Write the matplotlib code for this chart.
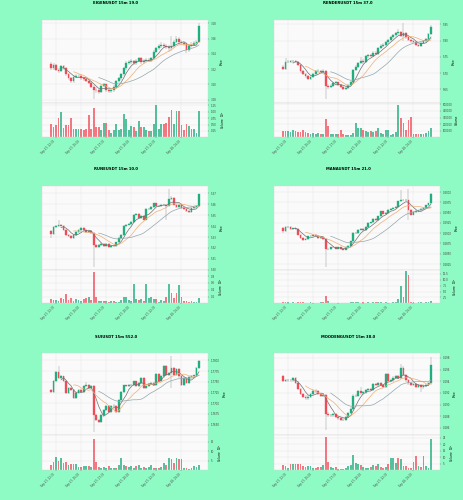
import numpy as np
import pandas as pd
import matplotlib.pyplot as plt
from matplotlib.ticker import MultipleLocator, FormatStrFormatter, FuncFormatter

BG = "#8efbc4"
UP = "#1fae7e"
DOWN = "#f04c58"
WICK = "#9a9a9a"
MA_COLORS = {5: "#707070", 10: "#f2ae74", 20: "#93a7ad"}

times = pd.date_range("2024-09-27 12:00", periods=60, freq="15min")
label_idx = [2, 12, 22, 32, 42, 52]

# ---------------- EIGEN ----------------
eigen_open0 = 3.227
eigen_close = [3.221, 3.226, 3.219, 3.218, 3.224, 3.221, 3.213, 3.208, 3.204, 3.210,
               3.211, 3.211, 3.208, 3.207, 3.205, 3.202, 3.197, 3.193, 3.192, 3.190,
               3.198, 3.200, 3.192, 3.191, 3.192, 3.197, 3.204, 3.208, 3.213, 3.221,
               3.228, 3.229, 3.230, 3.228, 3.231, 3.234, 3.229, 3.231, 3.232, 3.231,
               3.234, 3.243, 3.247, 3.250, 3.252, 3.250, 3.249, 3.247, 3.250, 3.256,
               3.260, 3.255, 3.254, 3.253, 3.245, 3.250, 3.252, 3.254, 3.256, 3.276]
eigen_high = [3.229, 3.228, 3.227, 3.221, 3.226, 3.226, 3.223, 3.215, 3.210, 3.212,
              3.213, 3.214, 3.213, 3.210, 3.209, 3.207, 3.204, 3.199, 3.196, 3.194,
              3.200, 3.202, 3.201, 3.194, 3.194, 3.199, 3.206, 3.210, 3.215, 3.223,
              3.230, 3.232, 3.233, 3.232, 3.233, 3.236, 3.236, 3.233, 3.235, 3.234,
              3.236, 3.245, 3.249, 3.253, 3.255, 3.254, 3.253, 3.252, 3.263, 3.258,
              3.263, 3.262, 3.258, 3.257, 3.255, 3.253, 3.255, 3.257, 3.258, 3.280]
eigen_low = [3.219, 3.219, 3.217, 3.215, 3.216, 3.219, 3.211, 3.206, 3.202, 3.202,
             3.208, 3.209, 3.206, 3.205, 3.203, 3.200, 3.195, 3.181, 3.189, 3.188,
             3.189, 3.196, 3.190, 3.189, 3.189, 3.190, 3.195, 3.202, 3.206, 3.211,
             3.219, 3.226, 3.227, 3.226, 3.226, 3.229, 3.227, 3.227, 3.229, 3.229,
             3.229, 3.232, 3.241, 3.245, 3.248, 3.248, 3.246, 3.243, 3.244, 3.248,
             3.254, 3.252, 3.251, 3.250, 3.241, 3.243, 3.248, 3.250, 3.252, 3.255]
eigen_volume = [51000, 41000, 50000, 74000, 100000, 38000, 47000, 49000, 76000, 34000,
                32000, 32000, 32000, 28000, 32000, 87000, 34000, 114000, 41000, 41000,
                28000, 55000, 55000, 28000, 18000, 28000, 51000, 28000, 32000, 91000,
                71000, 28000, 43000, 42000, 25000, 63000, 41000, 42000, 28000, 25000,
                25000, 51000, 126000, 34000, 54000, 51000, 55000, 79000, 108000, 51000,
                103000, 103000, 47000, 28000, 51000, 45000, 34000, 33000, 16000, 103000]

# ---------------- RENDER ----------------
render_open0 = 5.720
render_close = [5.713, 5.733, 5.735, 5.736, 5.737, 5.735, 5.726, 5.705, 5.698, 5.690,
                5.682, 5.688, 5.698, 5.705, 5.707, 5.702, 5.707, 5.661, 5.657, 5.661,
                5.669, 5.671, 5.664, 5.657, 5.651, 5.654, 5.664, 5.671, 5.708, 5.720,
                5.731, 5.738, 5.733, 5.751, 5.756, 5.753, 5.763, 5.759, 5.777, 5.784,
                5.787, 5.794, 5.802, 5.810, 5.816, 5.822, 5.825, 5.814, 5.822, 5.810,
                5.802, 5.797, 5.794, 5.787, 5.784, 5.792, 5.797, 5.804, 5.820, 5.841]
render_high = [5.724, 5.746, 5.739, 5.740, 5.741, 5.741, 5.738, 5.728, 5.708, 5.701,
               5.693, 5.692, 5.701, 5.708, 5.711, 5.710, 5.711, 5.709, 5.665, 5.665,
               5.673, 5.675, 5.674, 5.667, 5.660, 5.658, 5.667, 5.675, 5.712, 5.724,
               5.735, 5.748, 5.742, 5.755, 5.760, 5.760, 5.767, 5.767, 5.781, 5.788,
               5.791, 5.798, 5.806, 5.814, 5.820, 5.826, 5.835, 5.829, 5.853, 5.826,
               5.814, 5.806, 5.801, 5.798, 5.791, 5.796, 5.801, 5.808, 5.824, 5.848]
render_low = [5.708, 5.710, 5.730, 5.731, 5.732, 5.731, 5.722, 5.701, 5.694, 5.686,
              5.678, 5.679, 5.685, 5.695, 5.702, 5.699, 5.699, 5.620, 5.652, 5.654,
              5.658, 5.665, 5.660, 5.653, 5.647, 5.647, 5.651, 5.661, 5.668, 5.705,
              5.717, 5.728, 5.729, 5.730, 5.747, 5.749, 5.750, 5.755, 5.756, 5.773,
              5.780, 5.783, 5.790, 5.798, 5.806, 5.812, 5.818, 5.810, 5.800, 5.806,
              5.798, 5.793, 5.790, 5.783, 5.780, 5.781, 5.788, 5.793, 5.800, 5.817]
render_volume = [90000, 90000, 90000, 75000, 105000, 90000, 85000, 85000, 105000, 85000,
                 60000, 50000, 60000, 50000, 60000, 50000, 55000, 280000, 170000, 50000,
                 45000, 45000, 50000, 115000, 45000, 40000, 40000, 40000, 70000, 210000,
                 145000, 145000, 105000, 90000, 75000, 90000, 75000, 90000, 135000, 60000,
                 50000, 110000, 110000, 35000, 50000, 75000, 490000, 290000, 210000, 115000,
                 260000, 310000, 50000, 50000, 45000, 45000, 45000, 60000, 90000, 135000]

# ---------------- RUNE ----------------
rune_open0 = 5.3358
rune_close = [5.3328, 5.3392, 5.3398, 5.3414, 5.3405, 5.3368, 5.3322, 5.3312, 5.3291, 5.3322,
              5.3343, 5.3368, 5.3383, 5.3362, 5.3343, 5.3358, 5.3337, 5.3229, 5.3208, 5.3229,
              5.3238, 5.3220, 5.3238, 5.3208, 5.3220, 5.3214, 5.3251, 5.3291, 5.3322, 5.3398,
              5.3414, 5.3423, 5.3435, 5.3506, 5.3515, 5.3475, 5.3491, 5.3460, 5.3558, 5.3558,
              5.3577, 5.3608, 5.3583, 5.3583, 5.3598, 5.3598, 5.3589, 5.3651, 5.3660, 5.3598,
              5.3577, 5.3598, 5.3568, 5.3558, 5.3537, 5.3528, 5.3568, 5.3577, 5.3583, 5.3691]
rune_high = [5.3366, 5.3400, 5.3406, 5.3460, 5.3422, 5.3413, 5.3376, 5.3330, 5.3320, 5.3330,
             5.3351, 5.3376, 5.3391, 5.3391, 5.3370, 5.3366, 5.3366, 5.3345, 5.3237, 5.3237,
             5.3246, 5.3246, 5.3246, 5.3246, 5.3228, 5.3228, 5.3259, 5.3299, 5.3330, 5.3406,
             5.3422, 5.3431, 5.3443, 5.3514, 5.3523, 5.3523, 5.3499, 5.3499, 5.3566, 5.3566,
             5.3585, 5.3616, 5.3616, 5.3591, 5.3606, 5.3606, 5.3606, 5.3737, 5.3680, 5.3668,
             5.3606, 5.3606, 5.3606, 5.3576, 5.3566, 5.3545, 5.3576, 5.3585, 5.3591, 5.3699]
rune_low = [5.3290, 5.3320, 5.3385, 5.3390, 5.3397, 5.3360, 5.3314, 5.3304, 5.3283, 5.3283,
            5.3314, 5.3335, 5.3360, 5.3354, 5.3335, 5.3335, 5.3329, 5.3030, 5.3200, 5.3200,
            5.3221, 5.3212, 5.3212, 5.3200, 5.3200, 5.3206, 5.3206, 5.3243, 5.3283, 5.3314,
            5.3390, 5.3406, 5.3415, 5.3427, 5.3498, 5.3467, 5.3467, 5.3452, 5.3452, 5.3550,
            5.3550, 5.3569, 5.3575, 5.3575, 5.3575, 5.3590, 5.3460, 5.3581, 5.3643, 5.3590,
            5.3569, 5.3569, 5.3560, 5.3550, 5.3529, 5.3520, 5.3520, 5.3560, 5.3569, 5.3575]
rune_volume = [120000, 100000, 100000, 60000, 150000, 120000, 280000, 100000, 150000, 80000,
               120000, 100000, 80000, 120000, 150000, 200000, 100000, 920000, 180000, 80000,
               60000, 80000, 80000, 50000, 60000, 80000, 50000, 50000, 100000, 180000,
               180000, 100000, 80000, 580000, 120000, 100000, 120000, 80000, 560000, 150000,
               180000, 120000, 120000, 50000, 100000, 80000, 180000, 570000, 300000, 150000,
               300000, 540000, 180000, 80000, 80000, 50000, 80000, 50000, 50000, 170000]

# ---------------- MANA ----------------
mana_open0 = 0.29126
mana_close = [0.29044, 0.29150, 0.29150, 0.29101, 0.29118, 0.29101, 0.28962, 0.28881, 0.28840, 0.28856,
              0.28922, 0.28938, 0.28962, 0.28938, 0.28881, 0.28905, 0.28856, 0.28611, 0.28611, 0.28660,
              0.28652, 0.28627, 0.28660, 0.28611, 0.28595, 0.28660, 0.28693, 0.28799, 0.29003, 0.29003,
              0.29085, 0.29101, 0.29069, 0.29150, 0.29248, 0.29265, 0.29346, 0.29314, 0.29412, 0.29534,
              0.29477, 0.29493, 0.29575, 0.29592, 0.29616, 0.29641, 0.29779, 0.29796, 0.29804, 0.29804,
              0.29575, 0.29453, 0.29510, 0.29534, 0.29559, 0.29592, 0.29616, 0.29673, 0.29722, 0.29943]
mana_high = [0.29141, 0.29165, 0.29170, 0.29165, 0.29133, 0.29133, 0.29116, 0.28977, 0.28896, 0.28871,
             0.28937, 0.28953, 0.28977, 0.28977, 0.28953, 0.28920, 0.28920, 0.28871, 0.28626, 0.28675,
             0.28675, 0.28667, 0.28675, 0.28675, 0.28626, 0.28675, 0.28708, 0.28814, 0.29018, 0.29030,
             0.29100, 0.29116, 0.29116, 0.29165, 0.29263, 0.29280, 0.29361, 0.29361, 0.29427, 0.29549,
             0.29549, 0.29508, 0.29590, 0.29607, 0.29631, 0.29656, 0.29794, 0.30049, 0.29840, 0.29830,
             0.30065, 0.29590, 0.29525, 0.29549, 0.29574, 0.29607, 0.29631, 0.29688, 0.29737, 0.29980]
mana_low = [0.29000, 0.29029, 0.29135, 0.29086, 0.29086, 0.29086, 0.28947, 0.28866, 0.28810, 0.28825,
            0.28841, 0.28907, 0.28923, 0.28923, 0.28866, 0.28866, 0.28841, 0.28186, 0.28580, 0.28596,
            0.28637, 0.28612, 0.28612, 0.28596, 0.28580, 0.28580, 0.28645, 0.28678, 0.28784, 0.28988,
            0.28988, 0.29070, 0.29054, 0.29054, 0.29135, 0.29233, 0.29250, 0.29299, 0.29299, 0.29397,
            0.29462, 0.29462, 0.29478, 0.29560, 0.29577, 0.29601, 0.29626, 0.29764, 0.29781, 0.29789,
            0.29330, 0.29438, 0.29438, 0.29495, 0.29519, 0.29544, 0.29577, 0.29601, 0.29658, 0.29707]
mana_volume = [500000, 400000, 600000, 300000, 400000, 300000, 700000, 500000, 400000, 300000,
               300000, 400000, 300000, 300000, 300000, 400000, 500000, 3000000, 800000, 300000,
               300000, 200000, 300000, 200000, 200000, 200000, 300000, 400000, 600000, 500000,
               400000, 300000, 400000, 300000, 400000, 300000, 500000, 400000, 400000, 500000,
               300000, 400000, 300000, 200000, 400000, 500000, 1800000, 7200000, 2700000, 13700000,
               12200000, 600000, 400000, 300000, 400000, 500000, 300000, 400000, 500000, 1000000]

# ---------------- SUI ----------------
sui_open0 = 1.77313
sui_close = [1.77273, 1.77523, 1.77727, 1.77586, 1.77625, 1.77508, 1.77234, 1.77352, 1.77313, 1.77117,
             1.77234, 1.77313, 1.77273, 1.77391, 1.77430, 1.77352, 1.77391, 1.76727, 1.76609, 1.76570,
             1.76727, 1.76844, 1.76945, 1.76805, 1.76945, 1.76945, 1.76805, 1.77078, 1.77273, 1.77414,
             1.77391, 1.77430, 1.77430, 1.77508, 1.77391, 1.77469, 1.77586, 1.77352, 1.77391, 1.77445,
             1.77469, 1.77430, 1.77680, 1.77508, 1.77625, 1.77875, 1.77664, 1.77703, 1.77820, 1.77664,
             1.77805, 1.77625, 1.77430, 1.77586, 1.77469, 1.77602, 1.77625, 1.77648, 1.77820, 1.77977]
sui_high = [1.77340, 1.77545, 1.77750, 1.77859, 1.77650, 1.77645, 1.77530, 1.77375, 1.77375, 1.77335,
            1.77255, 1.77335, 1.77335, 1.77415, 1.77500, 1.77455, 1.77415, 1.77415, 1.76750, 1.76630,
            1.76750, 1.76865, 1.76965, 1.76965, 1.76965, 1.76970, 1.76965, 1.77100, 1.77295, 1.77435,
            1.77435, 1.77455, 1.77455, 1.77530, 1.77530, 1.77490, 1.77610, 1.77610, 1.77415, 1.77470,
            1.77490, 1.77490, 1.77705, 1.77705, 1.77650, 1.77900, 1.77900, 1.77725, 1.78094, 1.77845,
            1.77830, 1.77830, 1.77650, 1.77610, 1.77610, 1.77625, 1.77650, 1.77670, 1.77845, 1.78000]
sui_low = [1.77250, 1.77250, 1.77500, 1.77565, 1.77560, 1.77485, 1.77210, 1.77210, 1.77290, 1.77095,
           1.77095, 1.77210, 1.77250, 1.77250, 1.77370, 1.77330, 1.77330, 1.76336, 1.76585, 1.76545,
           1.76545, 1.76705, 1.76820, 1.76780, 1.76780, 1.76920, 1.76780, 1.76780, 1.77055, 1.77250,
           1.77370, 1.77370, 1.77405, 1.77405, 1.77370, 1.77370, 1.77445, 1.77330, 1.77330, 1.77370,
           1.77420, 1.77405, 1.77405, 1.77485, 1.77485, 1.77600, 1.77640, 1.77640, 1.77350, 1.77640,
           1.77640, 1.77600, 1.77405, 1.77405, 1.77445, 1.77445, 1.77580, 1.77600, 1.77625, 1.77800]
sui_volume = [2800000, 4600000, 6800000, 4900000, 6300000, 3700000, 4600000, 2800000, 3300000, 3300000,
              3200000, 1900000, 1900000, 2500000, 2100000, 2500000, 2000000, 16300000, 4200000, 1900000,
              1100000, 1800000, 1400000, 2300000, 1100000, 1100000, 1000000, 2800000, 6500000, 2800000,
              2400000, 1600000, 2300000, 1400000, 2500000, 3000000, 1400000, 1900000, 1100000, 1600000,
              2800000, 1100000, 1400000, 1100000, 1900000, 3700000, 2800000, 6700000, 6000000, 4000000,
              6700000, 6000000, 5800000, 1400000, 1100000, 700000, 1100000, 2100000, 1600000, 2800000]

# ---------------- MOODENG ----------------
moodeng_open0 = 0.19490
moodeng_close = [0.19406, 0.19417, 0.19423, 0.19417, 0.19451, 0.19377, 0.19265, 0.19180, 0.19135, 0.19107,
                 0.19135, 0.19180, 0.19237, 0.19225, 0.19180, 0.19152, 0.19163, 0.18842, 0.18814, 0.18814,
                 0.18831, 0.18786, 0.18763, 0.18741, 0.18741, 0.18786, 0.18853, 0.18927, 0.19152, 0.19152,
                 0.19225, 0.19192, 0.19208, 0.19248, 0.19265, 0.19248, 0.19349, 0.19338, 0.19361, 0.19338,
                 0.19304, 0.19518, 0.19406, 0.19417, 0.19462, 0.19490, 0.19451, 0.19631, 0.19507, 0.19417,
                 0.19361, 0.19338, 0.19349, 0.19304, 0.19338, 0.19293, 0.19321, 0.19338, 0.19361, 0.19687]
moodeng_high = [0.19510, 0.19440, 0.19445, 0.19445, 0.19475, 0.19475, 0.19400, 0.19285, 0.19200, 0.19155,
                0.19155, 0.19200, 0.19260, 0.19260, 0.19245, 0.19200, 0.19185, 0.19185, 0.18865, 0.18840,
                0.18855, 0.18855, 0.18810, 0.18785, 0.18765, 0.18810, 0.18875, 0.18950, 0.19175, 0.19175,
                0.19245, 0.19300, 0.19230, 0.19270, 0.19285, 0.19285, 0.19370, 0.19370, 0.19385, 0.19385,
                0.19360, 0.19540, 0.19540, 0.19440, 0.19485, 0.19510, 0.19510, 0.19699, 0.19655, 0.19530,
                0.19440, 0.19385, 0.19370, 0.19370, 0.19360, 0.19360, 0.19345, 0.19360, 0.19385, 0.19811]
moodeng_low = [0.19385, 0.19385, 0.19395, 0.19395, 0.19395, 0.19355, 0.19245, 0.19160, 0.19115, 0.19085,
               0.19085, 0.19115, 0.19160, 0.19205, 0.19160, 0.19130, 0.19130, 0.18561, 0.18790, 0.18790,
               0.18790, 0.18765, 0.18740, 0.18720, 0.18720, 0.18720, 0.18765, 0.18830, 0.18905, 0.19130,
               0.19130, 0.19170, 0.19170, 0.19185, 0.19225, 0.19225, 0.19225, 0.19315, 0.19315, 0.19315,
               0.19280, 0.19280, 0.19385, 0.19385, 0.19395, 0.19440, 0.19430, 0.19430, 0.19485, 0.19395,
               0.19340, 0.19315, 0.19315, 0.19280, 0.19280, 0.19208, 0.19270, 0.19300, 0.19315, 0.19340]
moodeng_volume = [4200000, 3600000, 2000000, 4700000, 4700000, 5000000, 5000000, 5000000, 3300000, 2800000,
                  3600000, 3300000, 2000000, 2000000, 2200000, 2200000, 4200000, 25500000, 6400000, 2800000,
                  2000000, 2200000, 1400000, 1400000, 1400000, 2000000, 3300000, 4200000, 11400000, 5500000,
                  5000000, 4200000, 2800000, 2000000, 2000000, 2800000, 4200000, 3600000, 5000000, 2800000,
                  2000000, 2800000, 4700000, 9200000, 9700000, 5500000, 9200000, 8900000, 3300000, 3300000,
                  2000000, 2000000, 6400000, 11000000, 3300000, 2800000, 11000000, 3300000, 2000000, 24000000]

charts = [
    ("EIGENUSDT 15m 19.0", eigen_open0, eigen_close, eigen_high, eigen_low, eigen_volume),
    ("RENDERUSDT 15m 37.0", render_open0, render_close, render_high, render_low, render_volume),
    ("RUNEUSDT 15m 10.0", rune_open0, rune_close, rune_high, rune_low, rune_volume),
    ("MANAUSDT 15m 21.0", mana_open0, mana_close, mana_high, mana_low, mana_volume),
    ("SUIUSDT 15m 552.0", sui_open0, sui_close, sui_high, sui_low, sui_volume),
    ("MOODENGUSDT 15m 38.0", moodeng_open0, moodeng_close, moodeng_high, moodeng_low, moodeng_volume),
]

# axis styling per chart: price step, price format, price limits, volume exponent,
# volume step, volume format, volume top
axis_cfg = [
    (0.02, "%.2f", (3.1756, 3.2843), 5, 0.25e5, "%.2f", 1.34e5),
    (0.05, "%.2f", (5.608, 5.863), 0, 1e5, "%d", 5.2e5),
    (0.01, "%.2f", (5.2998, 5.3768), 6, 0.2e6, "%.1f", 0.98e6),
    (0.0025, "%.4f", (0.28105, 0.30147), 6, 2.5e6, "%.1f", 14.2e6),
    (0.0025, "%.4f", (1.76258, 1.78172), 6, 5e6, "%d", 18.6e6),
    (0.002, "%.3f", (0.18476, 0.19885), 6, 5e6, "%d", 27e6),
]

W, H = 464, 500
fig = plt.figure(figsize=(W / 100, H / 100), dpi=100, facecolor=BG)

col_x = [42, 274]
rows = [(20, 103, 137), (186, 270, 303), (353, 435, 470)]
title_y = [3.5, 169, 337]
title_x = [116, 348]
AX_W = 166


def px_axes(x0, top, bottom):
    return fig.add_axes([x0 / W, 1 - bottom / H, AX_W / W, (bottom - top) / H])


def style(ax):
    ax.set_facecolor("#fafafa")
    for s in ax.spines.values():
        s.set_color("#d8d8d8")
        s.set_linewidth(0.3)
    ax.grid(True, color="#e2e2e2", lw=0.3)
    ax.set_axisbelow(True)
    ax.yaxis.tick_right()
    ax.yaxis.set_label_position("right")
    ax.tick_params(labelsize=1.9, length=1, width=0.3, pad=1, colors="#444444")


for k, (title, open0, close, high, low, volume) in enumerate(charts):
    r, cidx = divmod(k, 2)
    top, mid, bot = rows[r]
    step, fmt, ylim, vexp, vstep, vfmt, vtop = axis_cfg[k]

    axp = px_axes(col_x[cidx], top, mid)
    axv = px_axes(col_x[cidx], mid, bot)
    style(axp)
    style(axv)

    c = np.array(close)
    o = np.r_[open0, c[:-1]]
    h = np.array(high)
    l = np.array(low)
    v = np.array(volume, dtype=float)
    x = np.arange(len(c))
    cols = np.where(c >= o, UP, DOWN)

    axp.vlines(x, l, h, colors=WICK, lw=0.35, zorder=2)
    axp.bar(x, np.abs(c - o), bottom=np.minimum(o, c), width=0.7,
            color=cols, edgecolor=cols, lw=0.25, zorder=3)
    for n, mc in MA_COLORS.items():
        axp.plot(x, pd.Series(c).rolling(n).mean(), color=mc, lw=0.5, zorder=4)

    axv.bar(x, v, width=0.7, color=cols, alpha=0.75, lw=0)

    for ax in (axp, axv):
        ax.set_xlim(-3.6, len(c) + 2.6)
        ax.set_xticks(label_idx)
    axp.tick_params(labelbottom=False)
    axv.set_xticklabels([times[i].strftime("%b %d, %H:%M") for i in label_idx],
                        rotation=45, ha="right")

    axp.set_ylim(*ylim)
    axp.yaxis.set_major_locator(MultipleLocator(step))
    axp.yaxis.set_major_formatter(FormatStrFormatter(fmt))
    axp.set_ylabel("Price", fontsize=2.0, labelpad=2)

    axv.set_ylim(vtop * 0.01, vtop)
    axv.yaxis.set_major_locator(MultipleLocator(vstep))
    scale = 10 ** vexp
    axv.yaxis.set_major_formatter(FuncFormatter(lambda y, _, s=scale, f=vfmt: f % (y / s)))
    vlabel = "Volume" if vexp == 0 else "Volume  $10^{%d}$" % vexp
    axv.set_ylabel(vlabel, fontsize=2.0, labelpad=2)

    fig.text(title_x[cidx] / W, 1 - title_y[r] / H, title, ha="center", va="center",
             fontsize=2.7, fontweight="bold")

fig.savefig("out.png", dpi=100, facecolor=BG)
